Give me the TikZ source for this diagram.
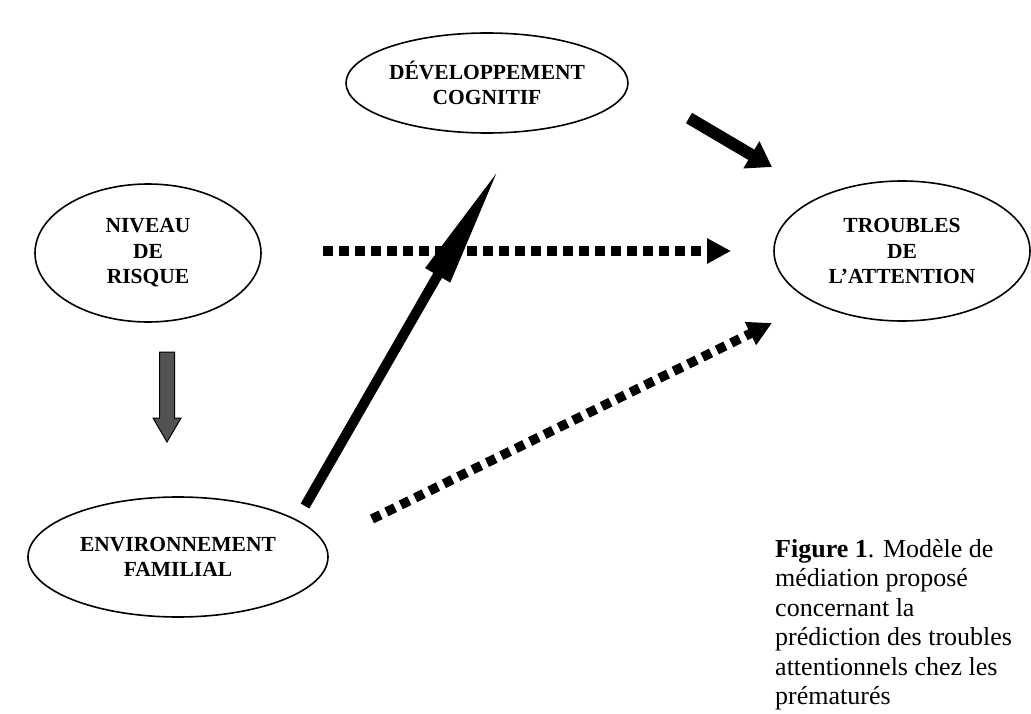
\documentclass[tikz,border=0pt]{standalone}
\usepackage{fontspec}
\setmainfont{Liberation Serif}
\usetikzlibrary{shapes.geometric,arrows.meta}
\tikzset{
  oval/.style={draw,line width=1.6pt,ellipse,inner sep=0pt,align=center,
    font=\bfseries\fontsize{21.5}{25.5}\selectfont},
  thickarrow/.style={line width=10pt,-{Triangle[length=125pt,width=26pt]}},
  shortarrow/.style={line width=12pt,-{Triangle[length=24pt,width=30pt]}},
  dotarrow/.style={line width=9.5pt,dash pattern=on 9.5pt off 6.5pt,
    -{Triangle[length=24pt,width=24pt]}},
  grayarrow/.style={draw=black,line width=1pt,fill=black!68},
  captext/.style={align=left,inner sep=0pt,font=\fontsize{26}{29.5}\selectfont}
}
\begin{document}
\begin{tikzpicture}[x=1pt,y=-1pt]
\useasboundingbox (0,0) rectangle (1031,714);
\fill[white] (0,0) rectangle (1031,714);
% ellipses
\node[oval,minimum width=282pt,minimum height=100pt] (dc) at (487,83) {DÉVELOPPEMENT\\COGNITIF};
\node[oval,minimum width=226pt,minimum height=138pt] (nr) at (148,253) {NIVEAU\\DE\\RISQUE};
\node[oval,minimum width=256pt,minimum height=140pt] (ta) at (902,251) {TROUBLES\\DE\\L’ATTENTION};
\node[oval,minimum width=300pt,minimum height=120pt] (ef) at (178,557) {ENVIRONNEMENT\\FAMILIAL};
% caption
\node[captext,anchor=north west] (cap) at (775,539) {\textbf{Figure 1}. Modèle de\\médiation proposé\\concernant la\\prédiction des troubles\\attentionnels chez les\\prématurés};
% connector end points
\coordinate (efA) at (305,506);
\coordinate (dcA) at (500,167);
\coordinate (dcB) at (689,118);
\coordinate (taB) at (772,167);
\coordinate (nrC) at (323,251);
\coordinate (taC) at (731,251);
\coordinate (efD) at (372,519);
\coordinate (taD) at (772,323);
% arrows
\draw[thickarrow] (efA) -- (dcA);
\draw[shortarrow] (dcB) -- (taB);
\draw[dotarrow] (nrC) -- (taC);
\draw[dotarrow] (efD) -- (taD);
% gray block arrow from NR to EF
\coordinate (g1) at (167,352);
\coordinate (g2) at (167,442);
\draw[grayarrow] ([xshift=-7.5pt]g1) -- ([xshift=7.5pt]g1) -- ([xshift=7.5pt,yshift=24pt]g2)
  -- ([xshift=14pt,yshift=24pt]g2) -- (g2) -- ([xshift=-14pt,yshift=24pt]g2)
  -- ([xshift=-7.5pt,yshift=24pt]g2) -- cycle;
\end{tikzpicture}
\end{document}
